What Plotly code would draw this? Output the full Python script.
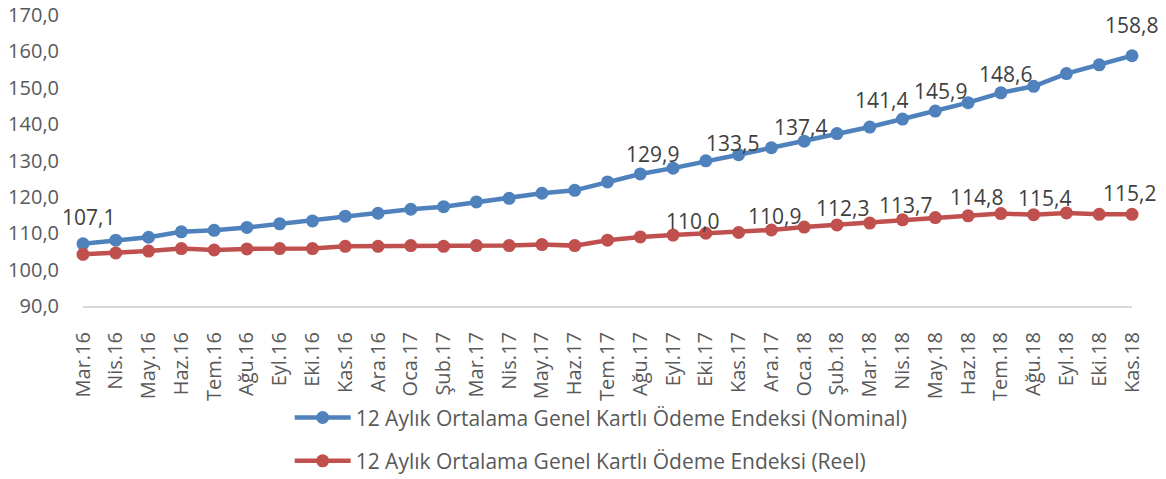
import plotly.graph_objects as go

months = ["Mar.16", "Nis.16", "May.16", "Haz.16", "Tem.16", "Ağu.16", "Eyl.16", "Eki.16",
          "Kas.16", "Ara.16", "Oca.17", "Şub.17", "Mar.17", "Nis.17", "May.17", "Haz.17",
          "Tem.17", "Ağu.17", "Eyl.17", "Eki.17", "Kas.17", "Ara.17", "Oca.18", "Şub.18",
          "Mar.18", "Nis.18", "May.18", "Haz.18", "Tem.18", "Ağu.18", "Eyl.18", "Eki.18",
          "Kas.18"]

nominal = [107.1, 108.1, 108.9, 110.4, 110.8, 111.6, 112.6, 113.4, 114.7, 115.5,
           116.6, 117.3, 118.6, 119.6, 121.0, 121.8, 124.1, 126.3, 127.9, 129.9,
           131.6, 133.5, 135.3, 137.4, 139.2, 141.4, 143.6, 145.9, 148.6, 150.4,
           153.9, 156.3, 158.8]

reel = [104.2, 104.6, 105.1, 105.8, 105.4, 105.7, 105.8, 105.8, 106.4, 106.4,
        106.6, 106.4, 106.6, 106.6, 106.9, 106.6, 108.1, 109.0, 109.5, 110.0,
        110.2, 110.9, 111.7, 112.3, 112.8, 113.7, 114.3, 114.8, 115.4, 115.1,
        115.6, 115.2, 115.2]

# months that carry a data label
nominal_label_months = ["Mar.16", "Eki.17", "Ara.17", "Şub.18", "Nis.18", "Haz.18", "Tem.18", "Kas.18"]
reel_label_months = ["Eki.17", "Ara.17", "Şub.18", "Nis.18", "Haz.18", "Tem.18", "Kas.18"]

# pixel offsets of the label centres from their points (style)
nominal_label_shift = [(5, 27), (-53, 7), (-39, 5), (-36, 7), (-21, 19), (-28, 12), (5, 19), (-1, 31)]
reel_label_shift = [(-13, 12), (3, 14), (6, 17), (3, 15), (8, 19), (44, 16), (-3, 21)]

series_names = ["12 Aylık Ortalama Genel Kartlı Ödeme Endeksi (Nominal)",
                "12 Aylık Ortalama Genel Kartlı Ödeme Endeksi (Reel)"]
colors = ["#4F81BD", "#C0504D"]

FONT = "Open Sans"

fig = go.Figure()
for name, vals, col in zip(series_names, [nominal, reel], colors):
    fig.add_trace(go.Scatter(
        x=months, y=vals, name=name, mode="lines+markers",
        line=dict(color=col, width=4.5),
        marker=dict(color=col, size=13),
        cliponaxis=False, legendgroup=name,
    ))

def fmt(v):
    return f"{v:.1f}".replace(".", ",")

for lm, sh in zip(nominal_label_months, nominal_label_shift):
    v = nominal[months.index(lm)]
    fig.add_annotation(x=lm, y=v, xref="x", yref="y", text=fmt(v), showarrow=False,
                       xshift=sh[0], yshift=sh[1],
                       font=dict(family=FONT, size=21, color="#404040"))
for lm, sh in zip(reel_label_months, reel_label_shift):
    v = reel[months.index(lm)]
    fig.add_annotation(x=lm, y=v, xref="x", yref="y", text=fmt(v), showarrow=False,
                       xshift=sh[0], yshift=sh[1],
                       font=dict(family=FONT, size=21, color="#404040"))

# the page places the figure 8px in from the top-left corner
fig.update_layout(
    width=1158, height=471,
    margin=dict(l=75, r=34, t=6.5, b=173, autoexpand=False),
    paper_bgcolor="white", plot_bgcolor="white",
    separators=",.",
    font=dict(family=FONT, size=20, color="#595959"),
    showlegend=True,
    legend=dict(orientation="v", x=0.197, y=-0.314, xanchor="left", yanchor="top",
                font=dict(family=FONT, size=21, color="#595959"),
                tracegroupgap=13, itemwidth=56, bgcolor="rgba(0,0,0,0)"),
    xaxis=dict(type="category", range=[0, 32], tickangle=-90, showgrid=False,
               showline=True, linecolor="#D9D9D9", linewidth=2, ticks="",
               ticklabelstandoff=16, tickfont=dict(family=FONT, size=20, color="#595959"),
               zeroline=False),
    yaxis=dict(range=[90, 170], tickvals=[90, 100, 110, 120, 130, 140, 150, 160, 170],
               tickformat=".1f", showgrid=False, ticklabeloverflow="allow",
               zeroline=False, showline=False, ticks="", ticklabelstandoff=23,
               tickfont=dict(family=FONT, size=20, color="#595959")),
)

fig.write_html("out.html")
